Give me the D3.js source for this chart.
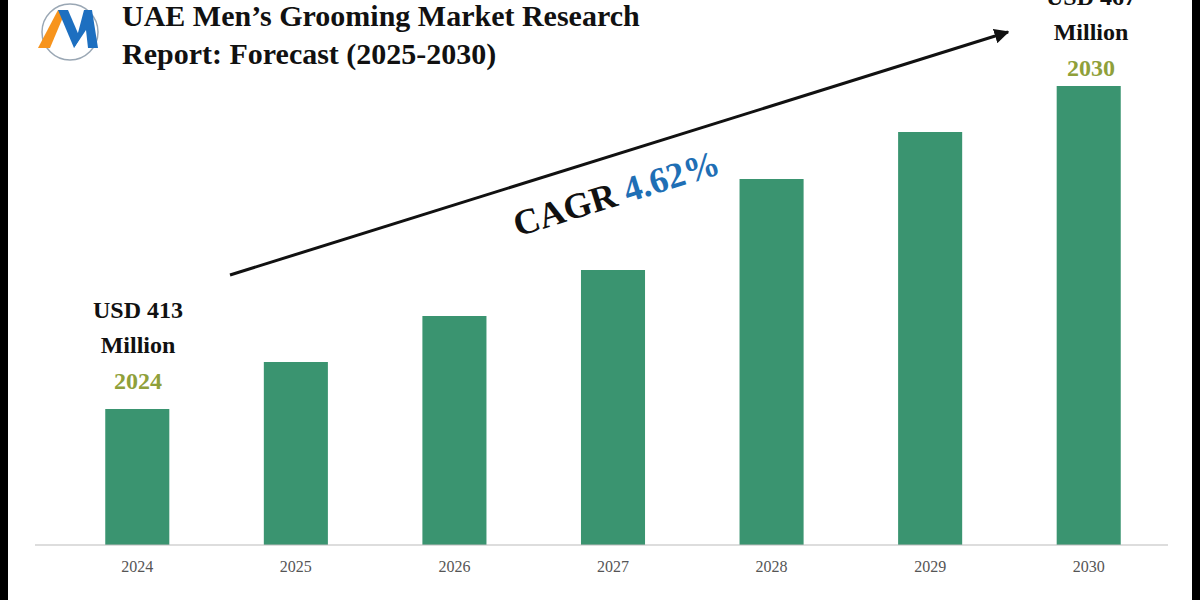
<!DOCTYPE html><html><head><meta charset="utf-8"><script src="https://cdn.jsdelivr.net/npm/d3@7"></script>
<style>body{margin:0;background:#fff}svg{display:block}</style></head><body><svg id="c" width="1200" height="600"></svg>
<script>
const years=["2024","2025","2026","2027","2028","2029","2030"];
const values=[136,183,229,275,366,413,459];
const svg=d3.select("#c");
const F="'Liberation Serif','DejaVu Serif',serif";
svg.append("rect").attr("x",0).attr("y",0).attr("width",8).attr("height",600).attr("fill","#000");
svg.append("rect").attr("x",1192).attr("y",0).attr("width",8).attr("height",600).attr("fill","#000");
const x=d3.scaleBand().domain(years).range([58,1168]).paddingInner(0.596).paddingOuter(0.298);
const y=d3.scaleLinear().domain([0,459]).range([545,86]);
svg.selectAll(".b").data(years).join("rect").attr("x",d=>x(d)).attr("width",x.bandwidth())
 .attr("y",(d,i)=>y(values[i])).attr("height",(d,i)=>545-y(values[i])).attr("fill","#3a9470");
const ax=svg.append("g").attr("transform","translate(0,545)").call(d3.axisBottom(x).tickSize(0).tickPadding(16));
ax.select(".domain").attr("stroke","#bbb").attr("d","M35,0H1168");
ax.selectAll("text").attr("font-family",F).attr("font-size",16).attr("fill","#555");
const lg=svg.append("g");
lg.append("circle").attr("cx",70).attr("cy",32).attr("r",28).attr("fill","none").attr("stroke","#9aa7b4").attr("stroke-width",1.5);
lg.append("path").attr("d","M38,48 L58,10 L66,10 L50,48Z").attr("fill","#f7941d");
lg.append("path").attr("d","M58,10 L68,10 L80,38 L74,48Z").attr("fill","#1d6fc0");
lg.append("path").attr("d","M74,48 L84,10 L92,10 L98,48 L88,48 L86,30Z").attr("fill","#1d6fc0");
svg.append("text").attr("x",122).attr("y",26).attr("font-family",F).attr("font-weight","bold").attr("font-size",30).attr("fill","#111").text("UAE Men’s Grooming Market Research");
svg.append("text").attr("x",122).attr("y",64).attr("font-family",F).attr("font-weight","bold").attr("font-size",30).attr("fill","#111").text("Report: Forecast (2025-2030)");
svg.append("defs").append("marker").attr("id","ah").attr("viewBox","0 0 10 10").attr("refX",9).attr("refY",5).attr("markerWidth",5).attr("markerHeight",5).attr("orient","auto").append("path").attr("d","M0,0L10,5L0,10Z").attr("fill","#111");
svg.append("line").attr("x1",230).attr("y1",275).attr("x2",1008).attr("y2",32).attr("stroke","#111").attr("stroke-width",3).attr("marker-end","url(#ah)");
const ct=svg.append("text").attr("transform","translate(620,205) rotate(-17.3)").attr("text-anchor","middle").attr("font-family",F).attr("font-weight","bold").attr("font-size",36);
ct.append("tspan").attr("fill","#111").text("CAGR ");
ct.append("tspan").attr("fill","#1f6fb5").text("4.62%");
const lab=(cx,ys,l1,l2,yr)=>{
 svg.append("text").attr("x",cx).attr("y",ys).attr("text-anchor","middle").attr("font-family",F).attr("font-weight","bold").attr("font-size",24).attr("fill","#111").text(l1);
 svg.append("text").attr("x",cx).attr("y",ys+35).attr("text-anchor","middle").attr("font-family",F).attr("font-weight","bold").attr("font-size",24).attr("fill","#111").text(l2);
 svg.append("text").attr("x",cx).attr("y",ys+71).attr("text-anchor","middle").attr("font-family",F).attr("font-weight","bold").attr("font-size",24).attr("fill","#8fa03a").text(yr);
};
lab(138,318,"USD 413","Million","2024");
lab(1091,5,"USD 467","Million","2030");
</script></body></html>
